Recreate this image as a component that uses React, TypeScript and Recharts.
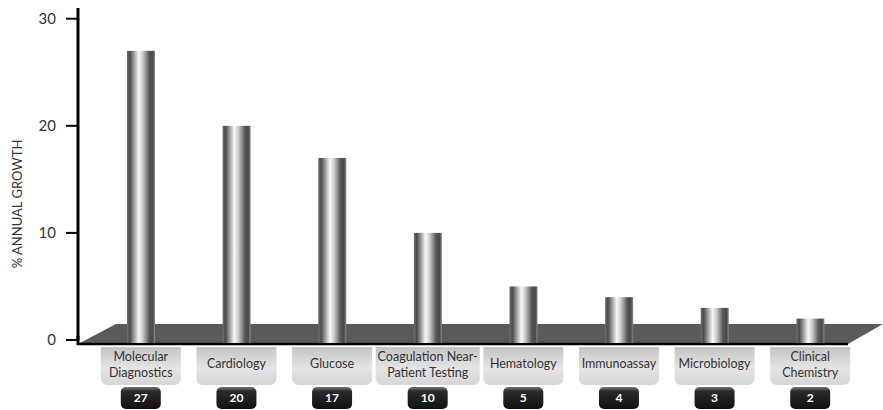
import React from 'react';
import { BarChart, Bar, XAxis, YAxis, ReferenceArea } from 'recharts';

const categories = [
  'Molecular\nDiagnostics',
  'Cardiology',
  'Glucose',
  'Coagulation Near-\nPatient Testing',
  'Hematology',
  'Immunoassay',
  'Microbiology',
  'Clinical\nChemistry',
];
const growth = [27, 20, 17, 10, 5, 4, 3, 2];
const yTicks = [0, 10, 20, 30];
const yLabel = '% ANNUAL GROWTH';

const data = categories.map((c, i) => ({ category: c, growth: growth[i] }));

const W = 883;
const H = 410;
const MARGIN = { top: 8, right: 10, left: 0, bottom: 0 };
const Y_AXIS_W = 78;
const FONT = "Lato, 'Open Sans', sans-serif";

function CylinderBar(props: any) {
  const { x, y, width, height } = props;
  if (x == null || y == null) return null;
  return <rect x={x} y={y} width={width} height={height + 3} fill="url(#cylGrad)" />;
}

function Floor(props: any) {
  const { y, height } = props;
  const bottom = y + height + 4;
  const top = bottom - 20;
  const left = MARGIN.left + Y_AXIS_W;
  const pts = `${left},${bottom} ${W - 35},${bottom} ${W},${top} ${left + 38},${top}`;
  return (
    <g>
      <polygon points={pts} fill="#5a5a5a" />
      <line x1={left - 1} y1={bottom} x2={W - 35} y2={bottom} stroke="#000" strokeWidth={2.5} />
      <line x1={left} y1={bottom - 8} x2={left} y2={bottom + 1} stroke="#000" strokeWidth={3} />
    </g>
  );
}

function CategoryTick(props: any) {
  const { x, y, payload } = props;
  const name = String(payload.value);
  const lines = name.split('\n');
  const longest = Math.max(...lines.map((l) => l.length));
  const bw = Math.max(80, longest * 6 + 2);
  const top = y + 7;
  const bh = 38;
  const r = 7;
  const x0 = x - bw / 2;
  const x1 = x + bw / 2;
  const bottom = top + bh;
  const path = `M${x0},${top} H${x1} V${bottom - r} Q${x1},${bottom} ${x1 - r},${bottom} H${x0 + r} Q${x0},${bottom} ${x0},${bottom - r} Z`;
  const row = data.find((d) => d.category === name);
  const value = row ? row.growth : '';
  const nbTop = bottom + 2;
  return (
    <g>
      <path d={path} fill="url(#boxGrad)" />
      {lines.length === 1 ? (
        <text x={x} y={top + 21} textAnchor="middle" fontFamily={FONT} fontSize={12.5} fill="#333">
          {lines[0]}
        </text>
      ) : (
        lines.map((l, i) => (
          <text key={i} x={x} y={top + 14 + i * 16} textAnchor="middle" fontFamily={FONT} fontSize={12.5} fill="#333">
            {l}
          </text>
        ))
      )}
      <rect x={x - 20} y={nbTop} width={40} height={22} rx={5} fill="url(#numGrad)" />
      <text x={x} y={nbTop + 15} textAnchor="middle" fontFamily={FONT} fontSize={12} fontWeight={700} fill="#fff">
        {value}
      </text>
    </g>
  );
}

const renderYLabel = () => (
  <text
    x={17}
    y={204}
    transform="rotate(-90 17 204)"
    textAnchor="middle"
    dominantBaseline="central"
    fontFamily={FONT}
    fontSize={13}
    fill="#333"
  >
    {yLabel}
  </text>
);

export default function App() {
  return (
    <div style={{ position: 'absolute', left: 0, top: 0, width: W, height: H, background: '#fff' }}>
      <svg style={{ position: 'absolute', width: 0, height: 0 }}>
        <defs>
          <linearGradient id="cylGrad" x1="0" y1="0" x2="1" y2="0">
            <stop offset="0%" stopColor="#707070" />
            <stop offset="10%" stopColor="#4a4a4a" />
            <stop offset="42%" stopColor="#f8f8f8" />
            <stop offset="55%" stopColor="#d0d0d0" />
            <stop offset="80%" stopColor="#555555" />
            <stop offset="92%" stopColor="#4a4a4a" />
            <stop offset="100%" stopColor="#8a8a8a" />
          </linearGradient>
          <linearGradient id="boxGrad" x1="0" y1="0" x2="0" y2="1">
            <stop offset="0%" stopColor="#c4c4c4" />
            <stop offset="55%" stopColor="#e4e4e4" />
            <stop offset="100%" stopColor="#d6d6d6" />
          </linearGradient>
          <linearGradient id="numGrad" x1="0" y1="0" x2="0" y2="1">
            <stop offset="0%" stopColor="#777" />
            <stop offset="20%" stopColor="#2a2a2a" />
            <stop offset="100%" stopColor="#111" />
          </linearGradient>
        </defs>
      </svg>
      <BarChart width={W} height={H} data={data} margin={MARGIN}>
        <ReferenceArea y1={0} y2={1} ifOverflow="visible" shape={(p: any) => <Floor {...p} />} />
        <XAxis
          dataKey="category"
          interval={0}
          tickLine={false}
          axisLine={false}
          tickSize={0}
          tickMargin={0}
          height={70}
          padding={{ left: 15, right: 15 }}
          tick={(p: any) => <CategoryTick {...p} />}
        />
        <YAxis
          width={Y_AXIS_W}
          domain={[0, 31]}
          ticks={yTicks}
          interval={0}
          tickSize={12}
          tickMargin={10}
          axisLine={{ stroke: '#000', strokeWidth: 3 }}
          tickLine={{ stroke: '#000', strokeWidth: 2 }}
          tick={{ fill: '#333', fontSize: 15, fontFamily: FONT }}
          label={{ value: yLabel, content: renderYLabel }}
        />
        <Bar dataKey="growth" barSize={28} isAnimationActive={false} shape={(p: any) => <CylinderBar {...p} />} />
      </BarChart>
    </div>
  );
}
